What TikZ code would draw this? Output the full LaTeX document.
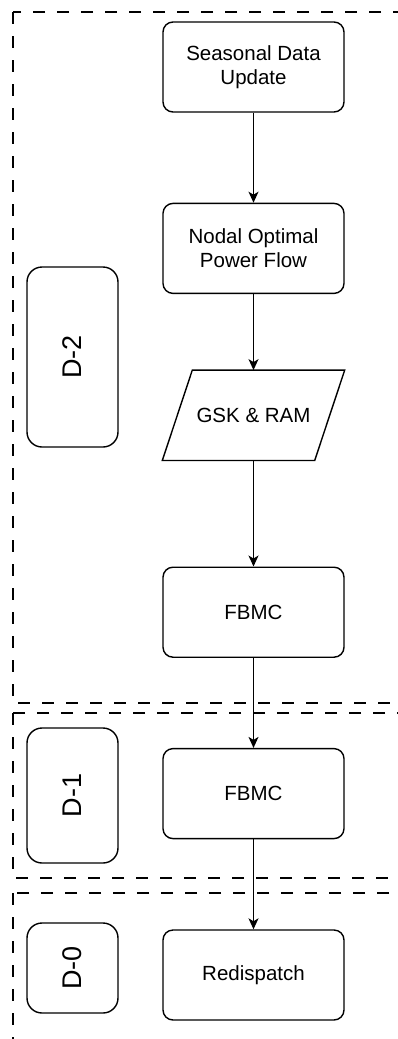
\documentclass[tikz,border=0pt]{standalone}
\usepackage{fontspec}
\setmainfont{Liberation Sans}
\usetikzlibrary{positioning,arrows.meta}

\tikzset{
  stepbox/.style={draw, rounded corners=10pt, minimum width=181pt,
    minimum height=90pt, inner sep=0pt, align=center,
    font=\fontsize{20.5}{24.5}\selectfont},
  daybox/.style={draw, rounded corners=15pt, minimum width=91pt,
    inner sep=0pt, font=\fontsize{27}{30}\selectfont},
  region/.style={dash pattern=on 12pt off 12pt},
  flow/.style={-{Stealth[length=11pt,width=10pt,inset=3pt]}}
}

\begin{document}
\begin{tikzpicture}[x=1pt, y=1pt, line width=1.4pt]
  \useasboundingbox (0,0) rectangle (397,-1039);

  \draw[region] (13,-12) rectangle (430,-703);
  \draw[region] (13,-713) rectangle (430,-878);
  \draw[region] (13,-893) rectangle (430,-1060);

  \node[daybox, minimum height=180pt] (d2) at (72.5,-357) {\rotatebox{90}{D-2}};
  \node[daybox, minimum height=135pt] (d1) at (72.5,-795.5) {\rotatebox{90}{D-1}};
  \node[daybox, minimum height=90pt] (d0) at (72.5,-968) {\rotatebox{90}{D-0}};

  \node[stepbox] (season) at (253.5,-67) {Seasonal Data\\Update};
  \node[stepbox, below=90pt of season] (opf) {Nodal Optimal\\Power Flow};
  \node[stepbox, draw=none, minimum height=89pt, below=76pt of opf] (gsk) {GSK \& RAM};
  \draw ([xshift=30pt]gsk.north west) -- (gsk.north east)
    -- ([xshift=-30pt]gsk.south east) -- (gsk.south west) -- cycle;
  \node[stepbox, below=106pt of gsk] (fbmc2) {FBMC};
  \node[stepbox, below=90pt of fbmc2] (fbmc1) {FBMC};
  \node[stepbox, below=90pt of fbmc1] (redisp) {Redispatch};

  \draw[flow] (season) -- (opf);
  \draw[flow] (opf) -- (gsk);
  \draw[flow] (gsk) -- (fbmc2);
  \draw[flow] (fbmc2) -- (fbmc1);
  \draw[flow] (fbmc1) -- (redisp);
\end{tikzpicture}
\end{document}
